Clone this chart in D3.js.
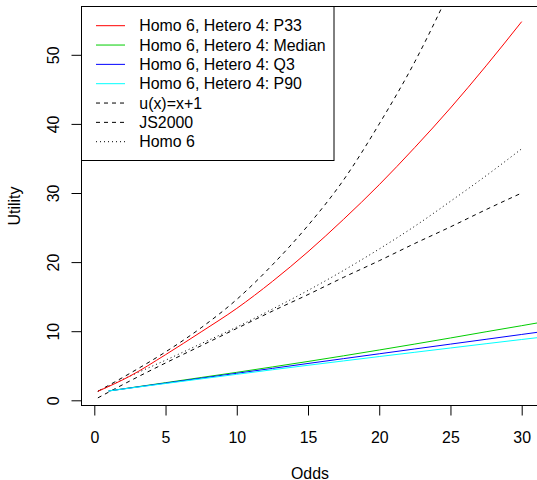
<!DOCTYPE html>
<html>
<head>
<meta charset="utf-8">
<script src="https://cdn.jsdelivr.net/npm/d3@7"></script>
<style>
  body { margin: 0; background: #fff; }
  text { font-family: "Liberation Sans", Arial, Helvetica, sans-serif; fill: #000; }
</style>
</head>
<body>
<div id="chart"></div>
<script>
// odds grid for the P33 / u(x) / JS2000 / Homo 6 curves
const oddsA = [0.25, 2.5, 5, 7.5, 10, 12.5, 15, 17.5, 20, 22.5, 25, 27.5, 30];
// odds grid for the Median / Q3 / P90 curves
const oddsB = [1, 2.5, 5, 7.5, 10, 12.5, 15, 17.5, 20, 22.5, 25, 27.5, 30, 32.5];

const p33    = [1.3, 3.5, 6.6, 9.9, 13.3, 17.2, 21.5, 26.2, 31.2, 36.6, 42.3, 48.4, 54.8];
const uLin   = [0.35, 2.8, 5.4, 7.9, 10.4, 12.9, 15.3, 17.8, 20.2, 22.7, 25.1, 27.6, 30.0];
const js2000 = [1.3, 3.9, 7.0, 10.5, 14.6, 19.6, 25.3, 31.9, 40.0, 49.0, 59.5, 71.0, 83.5];
const homo6  = [1.3, 3.5, 5.8, 8.2, 10.6, 13.2, 15.9, 18.8, 21.9, 25.2, 28.8, 32.5, 36.4];

const median = [1.35, 1.8, 2.55, 3.3, 4.05, 4.83, 5.62, 6.44, 7.28, 8.14, 9.02, 9.92, 10.8, 11.7];
const q3     = [1.35, 1.78, 2.49, 3.2, 3.91, 4.62, 5.33, 6.03, 6.73, 7.43, 8.13, 8.83, 9.53, 10.23];
const p90    = [1.35, 1.76, 2.43, 3.1, 3.76, 4.42, 5.07, 5.7, 6.33, 6.95, 7.57, 8.19, 8.8, 9.4];

const xTicks = [0, 5, 10, 15, 20, 25, 30];
const yTicks = [0, 10, 20, 30, 40, 50];

const legendLabels = [
    'Homo 6, Hetero 4: P33',
    'Homo 6, Hetero 4: Median',
    'Homo 6, Hetero 4: Q3',
    'Homo 6, Hetero 4: P90',
    'u(x)=x+1',
    'JS2000',
    'Homo 6'
];

const width = 537;
const height = 480;
const box = {left: 81.5, top: 6.5, right: 538.5, bottom: 405.5};
const fontSize = 15.9;

const x = d3.scaleLinear().domain([0, 30]).range([94.3, 521.7]);
const y = d3.scaleLinear().domain([0, 50]).range([400.3, 54.8]);

const series = [
    {xs: oddsA, ys: p33,    color: '#ff0000', dash: null},
    {xs: oddsB, ys: median, color: '#00cd00', dash: null},
    {xs: oddsB, ys: q3,     color: '#0000ff', dash: null},
    {xs: oddsB, ys: p90,    color: '#00ffff', dash: null},
    {xs: oddsA, ys: uLin,   color: '#000000', dash: '4,4'},
    {xs: oddsA, ys: js2000, color: '#000000', dash: '4,4'},
    {xs: oddsA, ys: homo6,  color: '#000000', dash: '1,3'}
];

const svg = d3.select('#chart')
    .append('svg')
    .attr('width', width)
    .attr('height', height);

svg.append('clipPath').attr('id', 'plotclip')
    .append('rect')
    .attr('x', box.left)
    .attr('y', box.top)
    .attr('width', box.right - box.left)
    .attr('height', box.bottom - box.top);

const line = d3.line().curve(d3.curveMonotoneX);

// draw back to front, same as R's lines() calls
const drawOrder = [4, 5, 6, 0, 1, 2, 3];
const lines = svg.append('g').attr('clip-path', 'url(#plotclip)');
drawOrder.forEach(i => {
    const s = series[i];
    lines.append('path')
        .attr('d', line(s.xs.map((v, j) => [x(v), y(s.ys[j])])))
        .attr('fill', 'none')
        .attr('stroke', s.color)
        .attr('stroke-width', 1)
        .attr('stroke-dasharray', s.dash);
});

// axes
const xAxis = d3.axisBottom(x).tickValues(xTicks).tickSize(10).tickPadding(6);
const gx = svg.append('g').attr('transform', 'translate(0,' + box.bottom + ')').call(xAxis);
gx.select('.domain').remove();
gx.selectAll('text').attr('font-size', fontSize).attr('font-family', null).attr('dy', null)
    .attr('y', 37);

const yAxis = d3.axisLeft(y).tickValues(yTicks).tickSize(10);
const gy = svg.append('g').attr('transform', 'translate(' + box.left + ',0)').call(yAxis);
gy.select('.domain').remove();
gy.selectAll('text')
    .attr('font-size', fontSize)
    .attr('font-family', null)
    .attr('x', null).attr('dy', null)
    .attr('text-anchor', 'middle')
    .attr('transform', 'translate(-22.7,0) rotate(-90)');

svg.selectAll('.tick line').attr('stroke', '#000');

// plot frame
svg.append('rect')
    .attr('x', box.left).attr('y', box.top)
    .attr('width', box.right - box.left).attr('height', box.bottom - box.top)
    .attr('fill', 'none').attr('stroke', '#000').attr('stroke-width', 1);

// axis titles
svg.append('text')
    .attr('x', (box.left + box.right) / 2).attr('y', 478.5)
    .attr('text-anchor', 'middle').attr('font-size', fontSize)
    .text('Odds');

svg.append('text')
    .attr('transform', 'translate(19.5,' + (box.top + box.bottom) / 2 + ') rotate(-90)')
    .attr('text-anchor', 'middle').attr('font-size', fontSize)
    .text('Utility');

// legend
const legend = svg.append('g');
legend.append('rect')
    .attr('x', box.left).attr('y', box.top)
    .attr('width', 334 - box.left).attr('height', 160.5 - box.top)
    .attr('fill', '#fff').attr('stroke', '#000').attr('stroke-width', 1);

const rowY = d3.scaleLinear().domain([0, 6]).range([25.7, 141.7]);
legendLabels.forEach((lab, i) => {
    const s = series[i];
    legend.append('line')
        .attr('x1', 96).attr('x2', 125)
        .attr('y1', rowY(i)).attr('y2', rowY(i))
        .attr('stroke', s.color).attr('stroke-width', 1)
        .attr('stroke-dasharray', s.dash);
    legend.append('text')
        .attr('x', 139.3).attr('y', rowY(i) + 5.7)
        .attr('font-size', fontSize)
        .text(lab);
});
</script>
</body>
</html>
